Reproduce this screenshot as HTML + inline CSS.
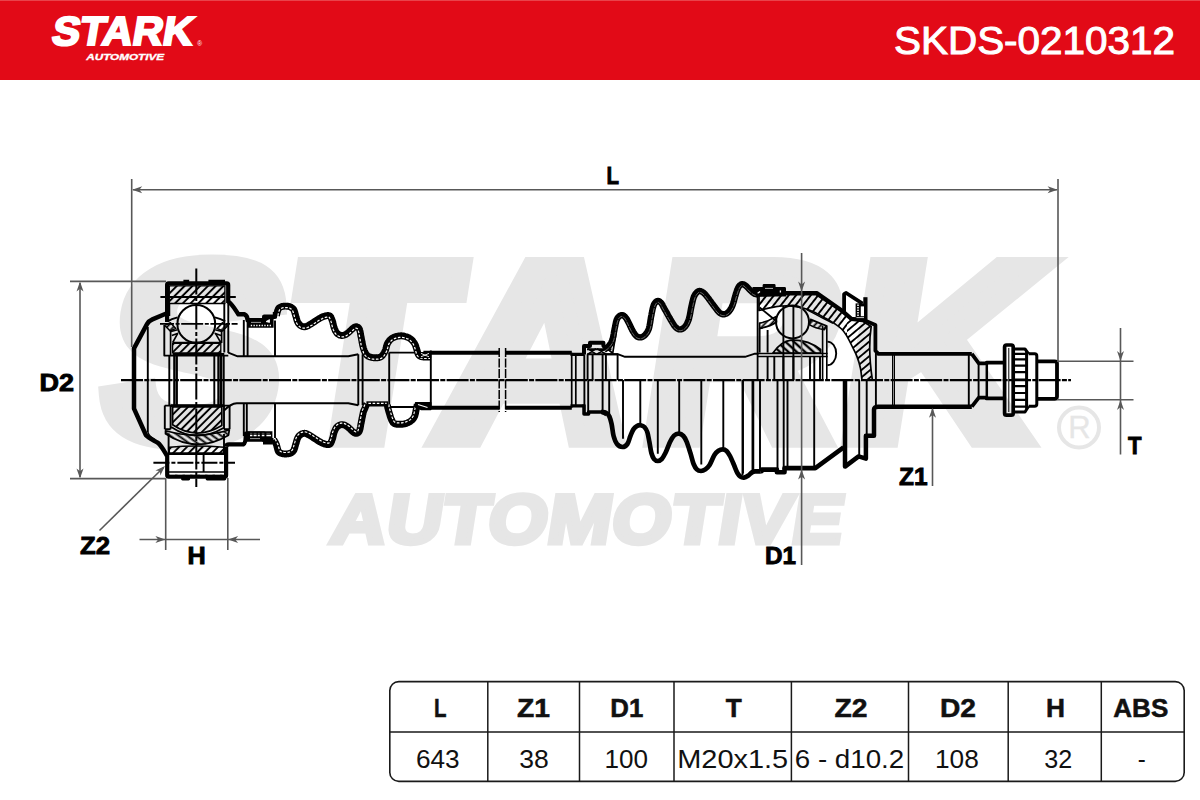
<!DOCTYPE html>
<html lang="en"><head><meta charset="utf-8"><title>STARK SKDS-0210312</title>
<style>
html,body{margin:0;padding:0;background:#fff;}
body{width:1200px;height:800px;overflow:hidden;font-family:"Liberation Sans",sans-serif;}
svg{display:block;}
text{font-family:"Liberation Sans",sans-serif;}
.lb{font-weight:bold;font-size:24.6px;fill:#000;stroke:#000;stroke-width:.9px;stroke-linejoin:miter;}
.th{font-weight:bold;font-size:25px;fill:#111;stroke:#111;stroke-width:.5px;text-anchor:middle;}
.td{font-size:25.5px;fill:#111;text-anchor:middle;}
.dim{stroke:#585858;stroke-width:1.6;fill:none;}
.ah{fill:#585858;stroke:none;}
</style></head><body>
<svg width="1200" height="800" viewBox="0 0 1200 800">
<defs>
<pattern id="h1" width="5.5" height="5.5" patternUnits="userSpaceOnUse" patternTransform="rotate(-45)"><path d="M0,2.75H5.5" stroke="#000" stroke-width="1.95"/></pattern>
<pattern id="h2" width="5" height="5" patternUnits="userSpaceOnUse" patternTransform="rotate(36)"><path d="M0,2.5H5" stroke="#000" stroke-width="1.9"/></pattern>
<pattern id="h3" width="4.6" height="4.6" patternUnits="userSpaceOnUse" patternTransform="rotate(-46)"><path d="M0,2.3H4.6" stroke="#000" stroke-width="1.75"/></pattern>
<pattern id="h6" width="5.6" height="5.6" patternUnits="userSpaceOnUse" patternTransform="rotate(-40)"><path d="M0,2.8H5.6" stroke="#000" stroke-width="1.85"/></pattern>
<pattern id="h4" width="4.3" height="4.3" patternUnits="userSpaceOnUse" patternTransform="rotate(-50)"><path d="M0,2.15H4.3" stroke="#000" stroke-width="1.5"/></pattern>
<pattern id="h5" width="5.8" height="5.8" patternUnits="userSpaceOnUse" patternTransform="rotate(-52)"><path d="M0,2.9H5.8" stroke="#000" stroke-width="1.9"/></pattern>
<pattern id="h7" width="5.6" height="5.6" patternUnits="userSpaceOnUse" patternTransform="rotate(42)"><path d="M0,2.8H5.6" stroke="#000" stroke-width="2.4"/></pattern>
<clipPath id="cA"><rect x="750" y="280" width="97" height="110"/></clipPath>
<clipPath id="cB"><rect x="847" y="280" width="40" height="110"/></clipPath>
</defs>
<rect x="0" y="0" width="1200" height="80" fill="#e20a17"/>
<rect x="0" y="0" width="1200" height="1" fill="#e9434b"/>
<text transform="translate(50.4,44.9) skewX(-9.5)" x="0" y="0" font-size="40.4" font-weight="bold" fill="#fff" stroke="#fff" stroke-width="2.2" textLength="141" lengthAdjust="spacingAndGlyphs">STARK</text>
<text x="86.2" y="60.1" font-size="9.4" font-weight="bold" font-style="italic" fill="#fff" stroke="#fff" stroke-width=".35" textLength="78" lengthAdjust="spacingAndGlyphs">AUTOMOTIVE</text>
<text x="197.2" y="45.6" font-size="6.5" fill="#fff">®</text>
<text x="894" y="54" font-size="38.4" fill="#fff" stroke="#fff" stroke-width="1" textLength="281" lengthAdjust="spacingAndGlyphs">SKDS-0210312</text>
<g fill="#e6e6e6" stroke="#e6e6e6" font-weight="bold" stroke-linejoin="miter">
<text transform="translate(0,447.8) skewX(-9) translate(0,-9) scale(1.06,1)" font-size="251" stroke-width="18" x="87.1 258.8 404.2 598.1 784.9" y="0">STARK</text>
<text transform="translate(326,545.4) skewX(-9) translate(0,-2.5) scale(1.1,1)" font-size="69" stroke-width="5" x="2" y="0" textLength="465" lengthAdjust="spacing">AUTOMOTIVE</text>
</g>
<circle cx="1079" cy="427.5" r="20" fill="none" stroke="#e6e6e6" stroke-width="4"/>
<text x="1079.5" y="438.4" font-size="31" text-anchor="middle" fill="#e6e6e6" stroke="#e6e6e6" stroke-width=".3">R</text>
<g fill="none" stroke="#000" stroke-linejoin="round" stroke-linecap="butt">
<path d="M166.9,313.2L152.4,319.4Q148.8,320.9 147,324.2L134,348.4V408.6L146,435.2C149,438.4 154,440.4 157.6,442.6C161,445 163.6,450 167,455.8" fill="none" stroke="#000" stroke-width="4.5"/>
<path d="M147.8,327V432" fill="none" stroke="#000" stroke-width="1.9"/>
<path d="M147.8,432C149,436 152,438 155,439.6" fill="none" stroke="#000" stroke-width="1.4"/>
<path d="M167.1,322V284.9Q167.1,283.4 168.6,283.4H226.6Q228.2,283.4 228.2,284.9V303" fill="none" stroke="#000" stroke-width="4.2"/>
<path d="M183.4,281.4H189.2M208.4,281.4H225" fill="none" stroke="#000" stroke-width="3.2"/>
<rect x="169.3" y="285.9" width="55.6" height="17.6" fill="url(#h1)" stroke="#000" stroke-width="1.3"/>
<path d="M169.3,297H225" fill="none" stroke="#000" stroke-width="1.9"/>
<circle cx="196.3" cy="323.9" r="18.9" stroke-width="2" fill="none"/>
<path d="M164.3,325V355.6H228.3M228.3,302V353M224.3,303.5V352.6M169.3,303.5V316" fill="none" stroke="#000" stroke-width="1.9"/>
<rect x="172.6" y="343.4" width="48.2" height="9.4" fill="url(#h1)" stroke="#000" stroke-width="1.3"/>
<path d="M172.6,354.3H224.3" fill="none" stroke="#000" stroke-width="2.6"/>
<path d="M167.4,321.4Q171.5,318.8 177.6,317.4M225.2,321.4Q221,318.8 215,317.4" fill="none" stroke="#000" stroke-width="1.9"/>
<path d="M164.8,325.4L170.4,322.8L175.8,328.4L170.2,331Z" fill="url(#h3)" stroke="#000" stroke-width="1.5"/>
<path d="M228,325.4L222.4,322.8L217,328.4L222.6,331Z" fill="url(#h3)" stroke="#000" stroke-width="1.5"/>
<path d="M171,331.6L177.6,329.8M171.8,335.6L178.2,333.2M221.8,331.6L215.2,329.8M221,335.6L214.6,333.2" fill="none" stroke="#000" stroke-width="1.6"/>
<path d="M170.6,331V355M172.6,342.6L177.6,333.6M172.6,342.6H220.8L215.6,333.6M221.6,331V343" fill="none" stroke="#000" stroke-width="1.7"/>
<path d="M169.3,355.6V405M214.3,355.6V405" fill="none" stroke="#000" stroke-width="1.9"/>
<path d="M174.3,355.6V405M176.8,355.6V405M218.4,355.6V405M220.9,355.6V405M223.6,355.6V405" fill="none" stroke="#000" stroke-width="2.2"/>
<path d="M164.8,405.6H229.6M164.8,405.6V429.3M170.6,405.6V429.3M164.8,429.3H170.6M224,405.6V429.3M229.6,405.6V429.3M224,429.3H229.6" fill="none" stroke="#000" stroke-width="1.9"/>
<path d="M170.6,405.6H224" fill="none" stroke="#000" stroke-width="2.6"/>
<path d="M172.6,406.8H221.8V425.5Q196.3,440.9 172.6,424.8Z" fill="url(#h1)" stroke="#000" stroke-width="1.7"/>
<path d="M171.2,427Q196.3,443.8 223.4,428" fill="none" stroke="#000" stroke-width="1.6"/>
<path d="M165.5,430.8Q196.3,439.6 229.3,430L228.5,435.2Q196.3,454.2 165.5,433.8Z" fill="url(#h2)" stroke="#000" stroke-width="1.7"/>
<path d="M169.3,447.2Q196.3,444.8 224,447.2V452.9H169.3Z" fill="url(#h1)" stroke="#000" stroke-width="1.5"/>
<path d="M168.6,433.6V453M224,434V453" fill="none" stroke="#000" stroke-width="1.9"/>
<path d="M168,453.9H226" fill="none" stroke="#000" stroke-width="2"/>
<path d="M167.2,453.5V475.2Q167.2,476.7 168.8,476.7H224.6Q226.1,476.7 226.1,475.2V446.4" fill="none" stroke="#000" stroke-width="4.2"/>
<path d="M168.5,472H225" fill="none" stroke="#000" stroke-width="1.3"/>
<path d="M170,473.9H224" fill="none" stroke="#fff" stroke-width="0.8" stroke-dasharray="5 2.5"/>
<path d="M182.6,478.8H188.6M207.2,478.8H224.6" fill="none" stroke="#000" stroke-width="3.2" stroke-linecap="round"/>
<path d="M203.6,453.6V472" fill="none" stroke="#000" stroke-width="1.9"/>
<path d="M228.2,301.6C232.5,304 235.5,310.5 238.4,314.3H244.4C246.8,315.4 247.6,317.5 247.6,320.2H264.2V316.8H275V312" fill="none" stroke="#000" stroke-width="4.4"/>
<path d="M226.1,446.6Q226.4,444.4 229,444.4H243.2C245.4,443.5 245.9,439.5 245.9,433.7H264.2V440.2H273.5" fill="none" stroke="#000" stroke-width="4.4"/>
<path d="M247.4,318.2H263.6V315.2H273.6V327.8H247.4Z" fill="#000" stroke="none"/>
<path d="M251,322.4H261" fill="none" stroke="#fff" stroke-width="0.6"/>
<path d="M250.8,325.5H271.6" fill="none" stroke="#fff" stroke-width="1.7" stroke-dasharray="1.3 1.4"/>
<path d="M266,321.6L269.5,319.6L269.5,322.4Z" fill="#fff" stroke="#fff" stroke-width="0.8"/>
<path d="M246.4,431.3H272.4V444.6H263V441.7H246.4Z" fill="#000" stroke="none"/>
<path d="M250,435.5H271" fill="none" stroke="#fff" stroke-width="1.3" stroke-dasharray="2.4 1.2 3 1.2 2 2 2.6 2 5 20"/>
<path d="M250,433.3H270" fill="none" stroke="#fff" stroke-width="0.7" stroke-opacity=".45" stroke-dasharray="2.4 1.2 3 1.2 2 2 2.6 2 5 20"/>
<path d="M250,438.6H260" fill="none" stroke="#fff" stroke-width="0.6"/>
<path d="M243.8,320V356.3M247.6,321.6V356.3M275,320.6V356.3M243.8,403.3V436M246.8,403.3V434M275,403.3V438" fill="none" stroke="#000" stroke-width="1.9"/>
<path d="M228.3,352.6L237.6,356.3H348.3L358.3,354.3M224.3,410.4C228,406.5 232,403.6 236.8,403.3H348.3L358.3,405.3" fill="none" stroke="#000" stroke-width="1.9"/>
<path d="M358.3,354.3V405.3M362.6,354.3V405.3" fill="none" stroke="#000" stroke-width="1.9"/>
<path d="M389.2,352.6V407M389.2,352.6H420M389.2,407H420M430.8,350.6V409" fill="none" stroke="#000" stroke-width="1.9"/>
<path d="M423.4,352.8H499.2M505.6,352.8H571.8M423.4,407.8H499.2M505.6,407.8H571.8" fill="none" stroke="#000" stroke-width="3.9"/>
<path d="M499.2,348V412M505.6,348V412" fill="none" stroke="#000" stroke-width="1.5" stroke-dasharray="9 1.5"/>
<path d="M571.7,352.8V407.8M575.8,353.2V406.6" fill="none" stroke="#000" stroke-width="1.7"/>
<path d="M570.5,354.4H584M570.5,405.9H584" fill="none" stroke="#000" stroke-width="3.3"/>
<path d="M276.4,315.4L276.6,314.8L276.8,314L277,313.1L277.3,312.1L277.5,311L277.9,310.1L278.2,309.3L278.4,308.7L278.7,308.3L279,308L279.4,307.7L279.7,307.5L280.1,307.3L280.5,307.1L281,306.9L281.5,306.7L282,306.5L282.5,306.4L283,306.3L283.6,306.2L284.2,306.2L284.8,306.1L285.4,306.1L286,306.1L286.6,306.2L287.2,306.2L287.8,306.3L288.3,306.3L288.9,306.4L289.4,306.6L289.9,306.7L290.4,306.9L290.9,307.2L291.4,307.4L291.8,307.7L292.3,308.1L292.7,308.4L293.1,308.8L293.4,309.2L293.8,309.7L294.1,310.3L294.3,311L294.6,311.8L294.9,312.7L295.1,313.7L295.4,314.6L295.6,315.5L295.9,316.4L296.2,317.2L296.4,318.1L296.6,318.9L296.9,319.8L297.1,320.6L297.4,321.4L297.8,322.2L298.2,323L298.6,323.6L299.2,324.3L299.7,324.8L300.3,325.3L300.9,325.7L301.6,326.1L302.3,326.4L303,326.6L303.6,326.7L304.2,326.8L304.8,326.8L305.5,326.7L306.2,326.5L306.9,326.2L307.7,325.8L308.7,325.3L309.9,324.6L311.4,323.7L313,322.6L314.7,321.5L316.4,320.4L318,319.4L319.4,318.5L320.7,317.8L321.7,317.2L322.7,316.8L323.5,316.5L324.3,316.2L325,316L325.6,315.9L326.3,315.7L326.9,315.6L327.5,315.6L328,315.5L328.5,315.5L328.9,315.6L329.2,315.6L329.5,315.8L329.8,315.9L330.1,316.1L330.3,316.4L330.6,316.7L330.9,317.1L331.1,317.7L331.4,318.3L331.7,319L331.9,319.7L332.2,320.5L332.5,321.3L332.8,322.2L333,323.3L333.3,324.4L333.5,325.5L333.8,326.5L334.1,327.6L334.4,328.5L334.8,329.3L335.1,330.1L335.4,330.8L335.8,331.4L336.2,332.1L336.6,332.6L337,333.2L337.5,333.7L338.1,334.1L338.7,334.5L339.3,334.8L339.9,335.1L340.6,335.3L341.2,335.4L341.9,335.5L342.6,335.4L343.3,335.3L344,335.2L344.7,334.9L345.3,334.6L345.9,334.3L346.5,333.9L347.2,333.4L347.9,333L348.6,332.4L349.4,331.6L350.2,330.9L351,330.1L351.8,329.3L352.6,328.6L353.2,328L353.8,327.6L354.3,327.3L354.8,327.1L355.2,326.9L355.5,326.8L355.8,326.7L356.1,326.7L356.3,326.7L356.7,326.8L357,326.9L357.4,327L357.7,327.2L358.1,327.4L358.4,327.7L358.7,328L359,328.4L359.3,328.9L359.6,329.6L359.8,330.4L360.1,331.4L360.3,332.5L360.5,333.6L360.7,334.9L360.9,336.1L361.2,337.3L361.4,338.5L361.6,339.7L361.9,341L362.1,342.4L362.4,343.7L362.6,345L362.9,346.2L363.2,347.4L363.5,348.5L363.9,349.5L364.2,350.5L364.6,351.5L365,352.4L365.5,353.2L365.9,354L366.5,354.7L367.1,355.4L367.8,355.9L368.4,356.3L369.1,356.6L369.8,356.9L370.4,357.1L371,357.2L371.7,357.4L372.3,357.6L373,357.7L373.8,357.8L374.5,357.8L375.2,357.8L375.9,357.8L376.5,357.8L377.1,357.7L377.6,357.7L378.1,357.7L378.7,357.6L379.2,357.5L379.8,357.3L380.4,357.1L381,356.7L381.6,356.3L382.1,355.7L382.6,355.2L383.1,354.5L383.6,353.8L384.1,353L384.5,352.3L384.9,351.4L385.3,350.6L385.7,349.6L386,348.6L386.2,347.6L386.5,346.6L386.7,345.6L387,344.7L387.3,343.9L387.7,343.1L388.1,342.4L388.7,341.6L389.2,340.9L389.8,340.1L390.5,339.5L391.2,338.9L391.9,338.3L392.7,337.9L393.6,337.4L394.6,337.1L395.6,336.7L396.7,336.4L397.9,336.2L399,336L400.1,335.9L401.2,335.8L402.2,335.9L403.3,336L404.4,336.2L405.4,336.5L406.5,336.8L407.5,337.2L408.4,337.6L409.3,338.1L410.1,338.5L410.8,339.1L411.5,339.7L412.1,340.3L412.8,341L413.3,341.7L413.9,342.5L414.4,343.2L414.8,343.9L415.2,344.6L415.5,345.4L415.8,346.2L416,347L416.3,347.9L416.6,348.7L416.8,349.5L417,350.1L417.2,350.8L417.4,351.5L417.6,352.2L417.7,352.9L417.9,353.5L418.2,354.2L418.6,354.8L419,355.3L419.5,355.8L420,356.1L420.5,356.4L421,356.6L421.6,356.7L422.2,356.8L422.8,356.9L423.6,357L424.6,357.1L425.6,357.1L426.7,357.1L427.7,357.1L428.7,357.1L429.4,357.1L430,357" fill="none" stroke="#000" stroke-width="6.9" stroke-linejoin="round"/>
<path d="M277.8,315.8L278,315.2L278.2,314.3L278.4,313.4L278.7,312.4L278.9,311.5L279.2,310.6L279.5,309.9L279.7,309.5L279.9,309.2L280.1,309L280.3,308.9L280.5,308.7L280.8,308.5L281.1,308.4L281.5,308.2L282,308L282.4,307.9L282.8,307.8L283.2,307.7L283.7,307.7L284.3,307.6L284.8,307.6L285.4,307.6L285.9,307.6L286.5,307.6L287.1,307.7L287.6,307.7L288.1,307.8L288.6,307.9L289,308L289.4,308.1L289.8,308.2L290.2,308.4L290.6,308.7L291,308.9L291.4,309.2L291.7,309.5L292,309.8L292.3,310.1L292.5,310.5L292.7,310.9L293,311.5L293.2,312.3L293.5,313.1L293.7,314L294,315L294.3,316L294.5,316.9L294.8,317.7L295,318.4L295.2,319.3L295.5,320.2L295.7,321L296.1,322L296.5,322.9L297,323.8L297.5,324.5L298.1,325.2L298.7,325.9L299.4,326.5L300.1,327L300.9,327.4L301.8,327.8L302.6,328L303.4,328.2L304.1,328.2L305,328.2L305.8,328.1L306.7,327.8L307.5,327.5L308.3,327.1L309.4,326.6L310.7,325.8L312.2,324.9L313.8,323.8L315.5,322.7L317.1,321.6L318.7,320.6L320.2,319.7L321.4,319.1L322.4,318.6L323.3,318.1L324,317.8L324.7,317.6L325.3,317.4L325.9,317.3L326.5,317.2L327.1,317.1L327.6,317L328.1,317L328.4,317L328.7,317L328.8,317L328.9,317.1L329,317.1L329.1,317.2L329.2,317.3L329.4,317.5L329.6,317.9L329.8,318.3L330.1,318.8L330.3,319.5L330.6,320.2L330.9,321L331.1,321.7L331.4,322.6L331.6,323.6L331.9,324.7L332.1,325.8L332.4,326.9L332.7,328L333.1,329L333.4,329.9L333.8,330.7L334.1,331.4L334.5,332.1L334.9,332.9L335.4,333.5L336,334.2L336.6,334.8L337.2,335.3L337.9,335.8L338.6,336.1L339.4,336.5L340.2,336.7L341.1,336.9L341.9,336.9L342.8,336.9L343.6,336.8L344.4,336.5L345.2,336.2L345.9,335.9L346.6,335.5L347.3,335.1L348,334.6L348.7,334.1L349.6,333.5L350.4,332.7L351.3,331.9L352.1,331.1L352.8,330.3L353.5,329.7L354.1,329.2L354.6,328.8L355,328.6L355.4,328.4L355.7,328.3L355.8,328.2L356,328.2L356,328.2L356.1,328.2L356.3,328.2L356.6,328.3L356.8,328.4L357,328.5L357.2,328.6L357.4,328.7L357.6,328.9L357.8,329.2L358,329.5L358.2,330.1L358.4,330.8L358.6,331.7L358.9,332.8L359.1,333.9L359.3,335.1L359.5,336.4L359.8,337.6L360,338.8L360.2,340L360.4,341.3L360.7,342.6L360.9,344L361.2,345.3L361.5,346.6L361.8,347.8L362.2,348.9L362.5,350L362.9,351L363.3,352L363.7,353L364.2,353.9L364.7,354.8L365.4,355.7L366.1,356.4L366.9,357.1L367.7,357.6L368.6,358L369.3,358.3L370,358.5L370.7,358.7L371.3,358.8L372.1,359L372.8,359.1L373.6,359.2L374.4,359.3L375.2,359.3L375.9,359.3L376.6,359.2L377.2,359.2L377.8,359.1L378.3,359.1L378.9,359L379.5,358.9L380.3,358.7L381.1,358.4L381.8,357.9L382.5,357.4L383.2,356.7L383.7,356.1L384.3,355.3L384.8,354.6L385.3,353.8L385.8,352.9L386.2,352.1L386.7,351.1L387.1,350.1L387.4,349L387.7,347.9L387.9,346.9L388.1,346L388.4,345.1L388.6,344.4L388.9,343.8L389.3,343.2L389.8,342.4L390.4,341.8L390.9,341.1L391.5,340.5L392.1,340L392.7,339.6L393.4,339.1L394.2,338.8L395.1,338.4L396,338.1L397.1,337.8L398.1,337.6L399.2,337.4L400.2,337.3L401.2,337.3L402.1,337.3L403.1,337.5L404,337.7L405,337.9L406,338.2L406.9,338.6L407.8,338.9L408.6,339.3L409.2,339.7L409.9,340.2L410.5,340.7L411.1,341.3L411.7,342L412.2,342.6L412.7,343.3L413.2,344L413.5,344.6L413.8,345.2L414.1,345.9L414.4,346.7L414.7,347.5L414.9,348.3L415.2,349.1L415.4,349.9L415.7,350.6L415.8,351.2L416,351.8L416.1,352.5L416.3,353.3L416.6,354L416.9,354.9L417.4,355.7L418,356.3L418.5,356.9L419.2,357.4L419.9,357.7L420.6,358L421.3,358.1L421.9,358.3L422.6,358.4L423.5,358.5L424.5,358.5L425.6,358.5L426.7,358.5L427.8,358.5L428.7,358.5L429.5,358.5L430,358.5" fill="none" stroke="#fff" stroke-width="1.2" stroke-dasharray="2.6 1.6"/>
<path d="M273.8,439.7L274,440L274.2,440.5L274.5,441L274.9,441.6L275.3,442.3L275.6,443L276,443.8L276.4,444.6L276.7,445.5L276.9,446.4L277.2,447.4L277.4,448.4L277.7,449.3L277.9,450.1L278.2,450.8L278.4,451.4L278.7,451.8L279,452.1L279.4,452.4L279.7,452.6L280.1,452.8L280.5,453L281,453.2L281.5,453.4L282,453.6L282.5,453.7L283,453.8L283.6,453.9L284.2,453.9L284.8,454L285.4,454L286,454L286.6,453.9L287.2,453.9L287.8,453.8L288.3,453.8L288.9,453.7L289.4,453.5L289.9,453.4L290.4,453.2L290.9,452.9L291.4,452.7L291.8,452.4L292.3,452L292.7,451.7L293.1,451.3L293.4,450.9L293.8,450.4L294.1,449.8L294.3,449.1L294.6,448.3L294.9,447.4L295.1,446.4L295.4,445.5L295.6,444.6L295.9,443.7L296.2,442.9L296.4,442L296.6,441.2L296.9,440.3L297.1,439.5L297.4,438.7L297.8,437.9L298.2,437.1L298.6,436.5L299.2,435.8L299.7,435.3L300.3,434.8L300.9,434.4L301.6,434L302.3,433.7L303,433.5L303.6,433.4L304.2,433.3L304.8,433.3L305.5,433.4L306.2,433.6L306.9,433.9L307.7,434.3L308.7,434.8L309.9,435.5L311.4,436.4L313,437.5L314.7,438.6L316.4,439.7L318,440.7L319.4,441.6L320.7,442.3L321.7,442.9L322.7,443.3L323.5,443.6L324.3,443.9L325,444.1L325.6,444.2L326.3,444.4L326.9,444.5L327.5,444.5L328,444.6L328.5,444.6L328.9,444.5L329.2,444.5L329.5,444.3L329.8,444.2L330.1,444L330.3,443.7L330.6,443.4L330.9,443L331.1,442.4L331.4,441.8L331.7,441.1L331.9,440.4L332.2,439.6L332.5,438.8L332.8,437.9L333,436.8L333.3,435.7L333.5,434.6L333.8,433.6L334.1,432.5L334.4,431.6L334.8,430.8L335.1,430L335.4,429.3L335.8,428.7L336.2,428L336.6,427.5L337,426.9L337.5,426.4L338.1,426L338.7,425.6L339.3,425.3L339.9,425L340.6,424.8L341.2,424.7L341.9,424.6L342.6,424.7L343.3,424.8L344,424.9L344.7,425.2L345.3,425.5L345.9,425.8L346.5,426.2L347.2,426.7L347.9,427.1L348.6,427.7L349.4,428.5L350.2,429.2L351,430L351.8,430.8L352.6,431.5L353.2,432.1L353.8,432.5L354.3,432.8L354.8,433L355.2,433.2L355.5,433.3L355.8,433.4L356.1,433.4L356.3,433.4L356.7,433.3L357,433.2L357.4,433.1L357.7,432.9L358.1,432.7L358.4,432.4L358.7,432.1L359,431.7L359.3,431.2L359.6,430.5L359.8,429.7L360.1,428.7L360.3,427.6L360.5,426.5L360.7,425.2L360.9,424L361.2,422.8L361.4,421.6L361.7,420.3L361.9,418.9L362.2,417.5L362.5,416.2L362.7,414.9L363,413.8L363.2,412.7L363.4,411.9L363.7,411.2L363.9,410.6L364.1,410.1L364.3,409.7L364.5,409.3L364.7,408.9L364.9,408.5L365.1,407.9L365.3,407.3L365.6,406.6L365.9,406L366.1,405.3L366.3,404.8L366.5,404.3L366.7,404" fill="none" stroke="#000" stroke-width="6.9"/>
<path d="M275,439L275.2,439.3L275.5,439.7L275.8,440.3L276.1,440.9L276.5,441.6L276.9,442.3L277.3,443.2L277.7,444L278,445L278.3,446L278.6,447L278.8,448L279.1,448.9L279.3,449.7L279.5,450.3L279.7,450.6L279.9,450.9L280.1,451.1L280.3,451.2L280.5,451.4L280.8,451.6L281.1,451.7L281.5,451.9L282,452.1L282.4,452.2L282.8,452.3L283.2,452.4L283.7,452.4L284.3,452.5L284.8,452.5L285.4,452.5L285.9,452.5L286.5,452.5L287.1,452.4L287.6,452.4L288.1,452.3L288.6,452.2L289,452.1L289.4,452L289.8,451.9L290.2,451.7L290.6,451.4L291,451.2L291.4,450.9L291.7,450.6L292,450.3L292.3,450L292.5,449.6L292.7,449.2L293,448.6L293.2,447.8L293.5,447L293.7,446.1L294,445.1L294.3,444.1L294.5,443.2L294.8,442.4L295,441.7L295.2,440.8L295.5,439.9L295.7,439.1L296.1,438.1L296.5,437.2L297,436.3L297.5,435.6L298.1,434.9L298.7,434.2L299.4,433.6L300.1,433.1L300.9,432.7L301.8,432.3L302.6,432.1L303.4,431.9L304.1,431.9L305,431.9L305.8,432L306.7,432.3L307.5,432.6L308.3,433L309.4,433.5L310.7,434.3L312.2,435.2L313.8,436.3L315.5,437.4L317.1,438.5L318.7,439.5L320.2,440.4L321.4,441L322.4,441.5L323.3,442L324,442.3L324.7,442.5L325.3,442.7L325.9,442.8L326.5,442.9L327.1,443L327.6,443.1L328.1,443.1L328.4,443.1L328.7,443.1L328.8,443.1L328.9,443L329,443L329.1,442.9L329.2,442.8L329.4,442.6L329.6,442.2L329.8,441.8L330.1,441.3L330.3,440.6L330.6,439.9L330.9,439.1L331.1,438.4L331.4,437.5L331.6,436.5L331.9,435.4L332.1,434.3L332.4,433.2L332.7,432.1L333.1,431.1L333.4,430.2L333.8,429.4L334.1,428.7L334.5,428L334.9,427.2L335.4,426.6L336,425.9L336.6,425.3L337.2,424.8L337.9,424.3L338.6,424L339.4,423.6L340.2,423.4L341.1,423.2L341.9,423.2L342.8,423.2L343.6,423.3L344.4,423.6L345.2,423.9L345.9,424.2L346.6,424.6L347.3,425L348,425.5L348.7,426L349.6,426.6L350.4,427.4L351.3,428.2L352.1,429L352.8,429.8L353.5,430.4L354.1,430.9L354.6,431.3L355,431.5L355.4,431.7L355.7,431.8L355.8,431.9L356,431.9L356,431.9L356.1,431.9L356.3,431.9L356.6,431.8L356.8,431.7L357,431.6L357.2,431.5L357.4,431.4L357.6,431.2L357.8,430.9L358,430.6L358.2,430L358.4,429.3L358.6,428.4L358.9,427.3L359.1,426.2L359.3,425L359.5,423.7L359.8,422.5L360,421.3L360.3,420L360.5,418.6L360.8,417.3L361,415.9L361.3,414.6L361.5,413.4L361.8,412.4L362,411.5L362.3,410.7L362.5,410.1L362.8,409.5L363,409L363.2,408.7L363.3,408.3L363.5,407.9L363.7,407.4L364,406.7L364.2,406.1L364.5,405.4L364.8,404.8L365,404.2L365.2,403.8L365.3,403.4" fill="none" stroke="#fff" stroke-width="1.2" stroke-dasharray="2.6 1.6"/>
<path d="M387.6,404.5L387.6,404.9L387.6,405.3L387.5,405.6L387.5,405.9L387.5,406.3L387.6,406.8L387.7,407.6L388,408.6L388.4,410L388.9,411.8L389.5,413.8L390.1,415.9L390.8,418L391.6,419.9L392.4,421.5L393.1,422.6L393.8,423.2L394.7,423.7L395.6,424L396.6,424.2L397.7,424.3L398.8,424.3L400,424.3L401.1,424.3L402.2,424.2L403.3,424.1L404.4,423.9L405.4,423.6L406.5,423.3L407.5,422.9L408.4,422.5L409.3,422L410.1,421.6L410.8,421L411.5,420.5L412.2,419.9L412.8,419.2L413.4,418.5L413.9,417.8L414.3,417L414.7,416.2L415,415.2L415.3,414.1L415.6,413L415.8,411.8L416,410.7L416.2,409.6L416.4,408.7L416.6,407.9L416.7,407.3L416.8,406.7L416.9,406.2L417,405.7L417.1,405.4L417.1,405L417.2,404.7" fill="none" stroke="#000" stroke-width="6.9"/>
<path d="M389.1,404.5L389.1,405L389,405.5L389,405.8L389,405.9L389,406.2L389,406.6L389.1,407.3L389.4,408.2L389.8,409.6L390.3,411.4L390.9,413.4L391.5,415.5L392.2,417.5L392.9,419.3L393.6,420.8L394.2,421.6L394.7,422.1L395.3,422.4L395.9,422.6L396.8,422.8L397.7,422.9L398.8,422.9L400,422.8L401.1,422.8L402.1,422.8L403.1,422.6L404,422.4L405,422.2L406,421.9L406.9,421.5L407.8,421.2L408.6,420.8L409.3,420.3L410,419.9L410.6,419.4L411.2,418.8L411.7,418.3L412.2,417.7L412.6,417L413,416.4L413.4,415.7L413.6,414.8L413.9,413.8L414.2,412.7L414.4,411.5L414.6,410.4L414.8,409.3L415,408.4L415.1,407.6L415.3,407L415.4,406.4L415.5,405.9L415.6,405.5L415.6,405.1L415.7,404.8L415.8,404.5" fill="none" stroke="#fff" stroke-width="1.2" stroke-dasharray="2.6 1.6"/>
<path d="M366.4,403.9H388" fill="none" stroke="#000" stroke-width="5.2"/>
<path d="M368.4,403.4H386.6" fill="none" stroke="#fff" stroke-width="1.2" stroke-dasharray="2.6 1.6"/>
<path d="M415.6,402.6H430.8V409.6H421.5L415.6,407Z" fill="#000" stroke="#000" stroke-width="1.4"/>
<path d="M418,404.6L427.5,407.6" fill="none" stroke="#fff" stroke-width="1.1"/>
<path d="M419.4,352.6H430.6V357.4H419.4Z" fill="#000" stroke="#000" stroke-width="1.2"/>
<path d="M421,353.4L429,356.8M421,356.8L429,353.4" fill="none" stroke="#fff" stroke-width="0.9"/>
<path d="M584,354.6V346H590V342.8H603.4V345.8L607,347.8" fill="none" stroke="#000" stroke-width="4"/>
<path d="M616.2,332L612.6,353.8" fill="none" stroke="#000" stroke-width="1.7"/>
<path d="M584,404.4V414H588.6V412H602L606.4,414.8" fill="none" stroke="#000" stroke-width="3.5"/>
<path d="M587,349.3H611.5M587,354.3H618" fill="none" stroke="#000" stroke-width="1.9"/>
<path d="M588,348.6L596,354.3M596,348.6L588,354.3M597,348.6L606,354.3M606,348.6L597,354.3M605,347L612.5,353" fill="none" stroke="#000" stroke-width="1.7"/>
<path d="M584.3,354.3V380.1M587.6,354.3V380.1M592.6,354.3V380.1M602.6,354.3V380.1M605.9,354.3V380.1" fill="none" stroke="#000" stroke-width="1.9"/>
<path d="M617.6,354.3V380.1" fill="none" stroke="#000" stroke-width="1.9"/>
<path d="M604,349.8L604.3,349.6L604.7,349.4L605.2,349.1L605.8,348.7L606.4,348.3L607,347.8L607.7,347.3L608.2,346.7L608.8,346.1L609.3,345.4L609.8,344.7L610.4,344L610.9,343.2L611.4,342.3L611.8,341.4L612.2,340.3L612.6,339.2L612.9,338L613.2,336.7L613.4,335.4L613.7,334.1L613.9,332.8L614.1,331.5L614.4,330.2L614.6,328.9L614.9,327.6L615.2,326.2L615.4,324.9L615.7,323.6L616,322.4L616.2,321.3L616.5,320.3L616.9,319.5L617.2,318.8L617.5,318.2L617.8,317.7L618.1,317.3L618.5,316.9L618.9,316.5L619.2,316.2L619.6,315.9L620,315.7L620.4,315.5L620.8,315.3L621.3,315.2L621.7,315.2L622.1,315.1L622.4,315.2L622.8,315.3L623.2,315.4L623.6,315.6L624,315.9L624.4,316.2L624.8,316.6L625.2,317L625.6,317.5L626,317.9L626.3,318.4L626.7,318.9L627,319.5L627.3,320.2L627.7,320.9L628.1,321.6L628.5,322.5L629,323.4L629.5,324.4L630,325.5L630.6,326.7L631.1,327.9L631.7,329L632.2,330.1L632.7,331L633.2,331.8L633.7,332.5L634.1,333.2L634.5,333.9L635,334.5L635.4,335L635.9,335.5L636.4,336L636.9,336.4L637.4,336.7L637.9,337L638.4,337.2L639,337.3L639.6,337.4L640.2,337.4L640.8,337.4L641.3,337.3L641.9,337.1L642.5,336.8L643.1,336.5L643.7,336.1L644.3,335.7L644.8,335.2L645.3,334.7L645.8,334.1L646.3,333.5L646.8,332.8L647.3,332.1L647.7,331.3L648.2,330.4L648.6,329.4L649,328.3L649.3,327L649.6,325.6L649.9,324L650.2,322.4L650.4,320.8L650.7,319.2L650.9,317.6L651.2,316.2L651.5,314.8L651.7,313.4L652,312.1L652.3,310.7L652.5,309.5L652.8,308.3L653.1,307.2L653.4,306.3L653.6,305.5L653.9,304.8L654.2,304.2L654.5,303.7L654.8,303.2L655.1,302.8L655.4,302.5L655.7,302.1L656,301.8L656.4,301.6L656.7,301.3L657,301.2L657.4,301.1L657.7,301L658,301L658.3,301L658.6,301.1L658.9,301.2L659.3,301.3L659.6,301.6L660,301.9L660.4,302.2L660.8,302.6L661.2,303L661.6,303.5L661.9,304L662.3,304.6L662.6,305.3L663,306L663.4,306.9L663.9,307.8L664.5,308.9L665.2,310.1L666,311.5L666.9,313L667.8,314.7L668.7,316.3L669.6,317.8L670.4,319.3L671.1,320.5L671.8,321.6L672.4,322.6L673,323.6L673.5,324.4L674,325.3L674.6,326L675.1,326.7L675.7,327.3L676.3,327.8L676.8,328.3L677.4,328.7L678,329L678.6,329.2L679.2,329.4L679.9,329.4L680.5,329.4L681.2,329.3L681.8,329.1L682.5,328.8L683.1,328.4L683.7,328L684.3,327.4L684.9,326.9L685.4,326.2L685.9,325.5L686.4,324.7L686.9,323.9L687.3,323L687.7,322.1L688.2,321L688.6,319.9L689,318.7L689.3,317.3L689.7,315.8L690,314.2L690.3,312.5L690.6,310.8L690.9,309.2L691.2,307.6L691.5,306.2L691.8,304.9L692.1,303.5L692.4,302.2L692.7,301L693,299.8L693.3,298.7L693.6,297.7L693.9,296.8L694.3,296L694.7,295.2L695,294.6L695.4,294L695.8,293.4L696.3,293L696.7,292.5L697.1,292.1L697.5,291.8L697.8,291.5L698.2,291.3L698.5,291.2L698.8,291.1L699.2,291L699.5,291L699.9,291L700.3,291.1L700.7,291.2L701.2,291.4L701.7,291.6L702.2,291.9L702.7,292.2L703.3,292.6L703.8,293L704.2,293.4L704.7,293.8L705.1,294.3L705.5,294.8L706,295.3L706.5,296L707.1,296.7L707.8,297.6L708.6,298.6L709.5,299.9L710.5,301.2L711.5,302.6L712.5,304L713.5,305.3L714.4,306.6L715.2,307.6L715.9,308.5L716.4,309.2L717,309.9L717.4,310.5L717.9,311.1L718.4,311.6L718.8,312.1L719.4,312.6L719.9,313L720.5,313.4L721.1,313.7L721.6,313.9L722.2,314.1L722.8,314.3L723.5,314.3L724.1,314.3L724.7,314.2L725.3,314L725.9,313.8L726.5,313.5L727.1,313.1L727.7,312.7L728.2,312.2L728.7,311.7L729.2,311.1L729.7,310.5L730.2,309.8L730.7,309L731.2,308.2L731.7,307.3L732.1,306.4L732.5,305.4L732.9,304.2L733.3,303L733.7,301.7L734.1,300.4L734.4,299L734.8,297.7L735.1,296.4L735.5,295.3L735.8,294.2L736.1,293.1L736.5,292.1L736.8,291.1L737.1,290.2L737.5,289.3L737.8,288.5L738.1,287.8L738.4,287.3L738.7,286.7L739,286.3L739.3,285.9L739.6,285.6L739.9,285.3L740.3,285.1L740.6,284.8L740.9,284.6L741.2,284.5L741.4,284.3L741.7,284.2L742,284.2L742.3,284.2L742.5,284.2L742.8,284.2L743.1,284.3L743.5,284.4L743.8,284.5L744.2,284.7L744.5,284.9L744.9,285.2L745.3,285.5L745.8,285.8L746.2,286.1L746.7,286.6L747.1,287.1L747.6,287.6L748.1,288.1L748.7,288.7L749.2,289.2L749.7,289.7L750.2,290.2L750.8,290.7L751.3,291.2L751.8,291.7L752.4,292.2L753,292.7L753.5,293.1L754.1,293.5L754.7,293.8L755.4,294L756,294.2L756.6,294.3L757.1,294.4L757.6,294.5L757.9,294.5L758.2,294.6" fill="none" stroke="#000" stroke-width="6.4"/>
<path d="M604.7,350.9L604.9,350.7L605.3,350.5L605.9,350.2L606.5,349.8L607.1,349.4L607.8,348.8L608.5,348.2L609.2,347.6L609.8,346.9L610.3,346.2L610.9,345.5L611.4,344.7L612,343.9L612.5,342.9L613,341.9L613.5,340.8L613.9,339.6L614.2,338.3L614.5,337L614.7,335.7L614.9,334.3L615.2,333L615.4,331.7L615.7,330.5L615.9,329.2L616.2,327.8L616.4,326.4L616.7,325.1L617,323.8L617.2,322.7L617.5,321.6L617.8,320.8L618.1,320L618.3,319.4L618.6,318.9L618.9,318.4L619.2,318.1L619.4,317.8L619.7,317.5L620,317.2L620.3,317L620.6,316.8L620.9,316.7L621.2,316.6L621.5,316.5L621.8,316.4L622,316.4L622.2,316.5L622.4,316.5L622.6,316.6L622.9,316.8L623.2,317L623.6,317.2L623.9,317.6L624.3,317.9L624.7,318.3L625,318.7L625.3,319.1L625.5,319.6L625.9,320.1L626.2,320.7L626.5,321.4L626.9,322.2L627.4,323L627.8,324L628.3,325L628.8,326.1L629.4,327.3L630,328.4L630.5,329.6L631.1,330.7L631.6,331.6L632.1,332.5L632.5,333.2L633,334L633.5,334.6L633.9,335.3L634.4,335.9L634.9,336.4L635.5,337L636.1,337.4L636.7,337.8L637.3,338.1L638,338.4L638.7,338.6L639.5,338.7L640.2,338.7L641,338.7L641.7,338.5L642.4,338.3L643.1,338L643.8,337.6L644.4,337.2L645.1,336.7L645.7,336.1L646.3,335.5L646.8,334.9L647.3,334.3L647.9,333.6L648.4,332.8L648.9,331.9L649.3,330.9L649.8,329.9L650.2,328.7L650.6,327.3L650.9,325.8L651.2,324.2L651.4,322.6L651.7,321L651.9,319.4L652.2,317.8L652.5,316.4L652.7,315.1L653,313.7L653.3,312.3L653.5,311L653.8,309.8L654.1,308.6L654.3,307.6L654.6,306.7L654.9,306L655.1,305.3L655.4,304.8L655.6,304.3L655.8,304L656.1,303.6L656.3,303.3L656.6,303L656.9,302.8L657.1,302.6L657.3,302.5L657.5,302.4L657.7,302.3L657.9,302.3L658,302.3L658.1,302.3L658.2,302.3L658.4,302.4L658.7,302.5L658.9,302.7L659.2,302.9L659.5,303.1L659.9,303.5L660.2,303.9L660.5,304.3L660.8,304.7L661.1,305.3L661.5,305.9L661.9,306.6L662.3,307.5L662.8,308.5L663.4,309.5L664.1,310.7L664.9,312.1L665.7,313.7L666.6,315.3L667.5,316.9L668.4,318.5L669.3,319.9L670,321.2L670.7,322.3L671.3,323.3L671.9,324.3L672.4,325.1L673,326L673.5,326.8L674.1,327.5L674.8,328.2L675.4,328.8L676.1,329.3L676.7,329.8L677.5,330.2L678.2,330.5L679,330.7L679.9,330.7L680.7,330.7L681.5,330.5L682.3,330.3L683.1,329.9L683.8,329.5L684.5,329L685.2,328.4L685.8,327.7L686.4,327L687,326.2L687.5,325.4L688,324.5L688.5,323.6L688.9,322.6L689.4,321.5L689.8,320.3L690.2,319L690.6,317.6L690.9,316.1L691.3,314.4L691.6,312.8L691.9,311.1L692.2,309.4L692.4,307.9L692.7,306.5L693.1,305.1L693.3,303.8L693.6,302.5L693.9,301.3L694.2,300.1L694.5,299.1L694.8,298.1L695.1,297.3L695.5,296.5L695.8,295.8L696.1,295.3L696.5,294.7L696.9,294.3L697.2,293.8L697.6,293.4L697.9,293.1L698.3,292.8L698.5,292.6L698.8,292.5L699,292.4L699.2,292.3L699.3,292.3L699.5,292.3L699.8,292.3L700,292.3L700.3,292.4L700.7,292.6L701.1,292.8L701.6,293L702,293.3L702.5,293.6L702.9,294L703.4,294.3L703.8,294.7L704.1,295.1L704.6,295.6L705,296.1L705.5,296.8L706.1,297.5L706.8,298.4L707.6,299.4L708.5,300.6L709.4,302L710.5,303.4L711.5,304.8L712.5,306.1L713.4,307.3L714.2,308.4L714.8,309.3L715.4,310L715.9,310.7L716.4,311.4L716.9,312L717.4,312.5L718,313.1L718.6,313.6L719.2,314.1L719.8,314.5L720.5,314.8L721.2,315.1L721.9,315.4L722.6,315.5L723.4,315.6L724.2,315.6L725,315.5L725.7,315.3L726.5,315L727.2,314.6L727.8,314.2L728.5,313.7L729.1,313.2L729.7,312.6L730.2,311.9L730.8,311.2L731.3,310.5L731.8,309.7L732.3,308.8L732.8,307.9L733.3,306.9L733.7,305.8L734.2,304.7L734.6,303.4L735,302.1L735.3,300.7L735.7,299.3L736,298L736.4,296.8L736.7,295.7L737,294.6L737.4,293.5L737.7,292.5L738,291.5L738.4,290.6L738.7,289.8L739,289.1L739.3,288.4L739.5,287.9L739.8,287.5L740.1,287.1L740.3,286.8L740.6,286.5L740.8,286.3L741.1,286.1L741.3,285.9L741.6,285.7L741.7,285.6L741.9,285.5L742.1,285.5L742.2,285.5L742.3,285.5L742.5,285.5L742.6,285.5L742.8,285.5L743,285.6L743.3,285.7L743.5,285.8L743.9,286L744.2,286.2L744.6,286.5L745,286.8L745.3,287.1L745.7,287.5L746.2,288L746.7,288.5L747.2,289L747.7,289.6L748.3,290.1L748.8,290.7L749.3,291.2L749.9,291.7L750.4,292.2L751,292.7L751.6,293.2L752.2,293.7L752.8,294.2L753.5,294.6L754.2,295L755,295.2L755.7,295.4L756.3,295.6L756.9,295.7L757.4,295.8L757.7,295.8L757.9,295.9" fill="none" stroke="#fff" stroke-width="0.7" stroke-opacity=".6" stroke-dasharray="5 1"/>
<path d="M605.9,354.3H618.4L625,356.8H745L755,353.7H758.4" fill="none" stroke="#000" stroke-width="1.9"/>
<path d="M601,412H601.8C602.5,412.1 604.7,412.1 606,412.8C607.3,413.5 608.5,414.5 609.4,416.4C610.3,418.3 610.9,420.7 611.6,424C612.3,427.3 612.7,432.7 613.6,436C614.5,439.3 615.5,442.2 617,444C618.5,445.8 620.8,447 622.5,447C624.2,447 626.1,445.8 627.4,444C628.7,442.2 629.4,438.4 630.4,436C631.4,433.6 632.3,431.1 633.4,429.4C634.5,427.7 635.8,426.7 637,426C638.2,425.3 639.4,425 640.6,425.2C641.8,425.4 643.3,425.8 644.4,427C645.5,428.2 646.6,429.9 647.4,432.4C648.2,434.9 648.7,438.6 649.4,442C650.1,445.4 650.6,450.2 651.4,453C652.2,455.8 652.9,457.7 654,459C655.1,460.3 656.5,461 657.8,461C659.1,461 660.5,460.3 661.8,459C663.1,457.7 664,455.8 665.4,453C666.8,450.2 668.6,444.9 670,442C671.4,439.1 672.5,437 674,435.6C675.5,434.2 677.4,433.5 679,433.6C680.6,433.7 682.1,434.7 683.4,436C684.7,437.3 685.4,438.8 686.6,441.6C687.8,444.4 689.2,449.3 690.4,453C691.6,456.7 692.5,461.3 693.6,464C694.7,466.7 695.6,468.2 696.8,469.4C698,470.6 699.6,471 701,471C702.4,471 704,470.4 705.4,469.4C706.8,468.4 708.1,467.4 709.6,465C711.1,462.6 712.9,457.4 714.4,455C715.9,452.6 717,451.7 718.4,450.8C719.8,449.9 721.2,449.4 722.6,449.4C724,449.4 725.4,449.9 726.6,451C727.8,452.1 728.8,453.7 730,456C731.2,458.3 732.8,462.2 734,465C735.2,467.8 736.3,471.1 737.4,473C738.5,474.9 739.3,475.8 740.4,476.6C741.5,477.4 742.7,477.7 744,477.6C745.3,477.5 746.7,476.7 748,475.8C749.3,474.9 750.8,473.1 752,472.4C753.2,471.7 753.5,471.6 755,471.4C756.5,471.2 759.8,471.3 760.8,471.3" fill="none" stroke="#000" stroke-width="4.7"/>
<path d="M584.4,380.1V413M588.2,380.1V412M602.6,380.1V411.6M609.2,380.1V416M623,380.1V438.8M640.3,380.1V424.4M657.8,380.1V453.8M679.2,380.1V432.8M701.3,380.1V464.6M723.3,380.1V448.6M743,380.1V473.6M753.3,380.1V471" fill="none" stroke="#000" stroke-width="1.9"/>
<path d="M757.6,293.4L785,292.8H816.8L841.8,310.2L851.5,318.6L863,319.8L869,322.2L875.4,325V350.8L878.4,353.9H971.8" fill="none" stroke="#000" stroke-width="3.8"/>
<path d="M752.4,287H762.6V285.4Q762.6,284 764,284H774.2Q775.6,284 775.6,285.4V287H784.6Q786,287 786,288.4V296.6H756Z" fill="#000" stroke="none"/>
<path d="M765,288.4H773" fill="none" stroke="#fff" stroke-width="0.7"/>
<path d="M757.5,293.6L760,291.6M780.4,290.6V292.4" fill="none" stroke="#fff" stroke-width="1.3"/>
<path d="M844.1,312.5V294.2L846.2,293L862.6,303.6" fill="none" stroke="#000" stroke-width="3.8"/>
<path d="M865.4,297.2V321.4" fill="none" stroke="#000" stroke-width="4.2"/>
<rect x="855.6" y="303.4" width="9" height="15.8" fill="#000" stroke="none"/>
<path d="M858,304.6V316.6" fill="none" stroke="#ddd" stroke-width="1.8" stroke-dasharray="1.3 1.2"/>
<rect x="860.8" y="306.4" width="3.2" height="9.8" fill="#fff" stroke="none"/>
<path d="M856.4,317.6H864" fill="none" stroke="#fff" stroke-width="0.8"/>
<path d="M759,296L785,294.6H816L841,311.6L851,320.2L863,321.4L871.2,326.4C868.4,345 869.6,362 872.4,380.1H862L862,380.1C861.7,378 861.2,371.9 860.4,368C859.6,364.1 858.4,360.3 857,356.6C855.6,352.9 853.7,349.5 852,346C850.3,342.5 848.3,338.4 846.6,335.6C844.9,332.8 843.4,330.8 841.6,329C839.8,327.2 838.6,326.3 836,324.6C833.4,322.9 829.5,320.6 826,318.6C822.5,316.6 818.8,314.4 815,312.6C811.2,310.8 807.2,309.1 803,308C798.8,306.9 794.5,306 790,305.8C785.5,305.6 781.2,305.8 776,306.6C770.8,307.4 761.8,309.9 759,310.5Z" fill="url(#h5)" stroke="none" clip-path="url(#cA)"/>
<path d="M759,296L785,294.6H816L841,311.6L851,320.2L863,321.4L871.2,326.4C868.4,345 869.6,362 872.4,380.1H862L862,380.1C861.7,378 861.2,371.9 860.4,368C859.6,364.1 858.4,360.3 857,356.6C855.6,352.9 853.7,349.5 852,346C850.3,342.5 848.3,338.4 846.6,335.6C844.9,332.8 843.4,330.8 841.6,329C839.8,327.2 838.6,326.3 836,324.6C833.4,322.9 829.5,320.6 826,318.6C822.5,316.6 818.8,314.4 815,312.6C811.2,310.8 807.2,309.1 803,308C798.8,306.9 794.5,306 790,305.8C785.5,305.6 781.2,305.8 776,306.6C770.8,307.4 761.8,309.9 759,310.5Z" fill="url(#h6)" stroke="none" clip-path="url(#cB)"/>
<path d="M759,296L785,294.6H816L841,311.6L851,320.2L863,321.4L871.2,326.4C868.4,345 869.6,362 872.4,380.1H862L862,380.1C861.7,378 861.2,371.9 860.4,368C859.6,364.1 858.4,360.3 857,356.6C855.6,352.9 853.7,349.5 852,346C850.3,342.5 848.3,338.4 846.6,335.6C844.9,332.8 843.4,330.8 841.6,329C839.8,327.2 838.6,326.3 836,324.6C833.4,322.9 829.5,320.6 826,318.6C822.5,316.6 818.8,314.4 815,312.6C811.2,310.8 807.2,309.1 803,308C798.8,306.9 794.5,306 790,305.8C785.5,305.6 781.2,305.8 776,306.6C770.8,307.4 761.8,309.9 759,310.5Z" fill="none" stroke="#000" stroke-width="1.7"/>
<circle cx="792.5" cy="321.9" r="16.5" stroke-width="2" fill="none"/>
<path d="M783.4,306V380.1 M793.4,306V380.1" fill="none" stroke="#000" stroke-width="1.9"/>
<path d="M757.6,293.4V380.1" fill="none" stroke="#000" stroke-width="1.8"/>
<path d="M767.6,330V352.6" fill="none" stroke="#000" stroke-width="1.9"/>
<path d="M759.6,323.2C766,322 771,319.6 775.8,316.6L776.6,322C772,325.2 766,327.4 759.6,328.4Z" fill="url(#h3)" stroke="#000" stroke-width="1.7"/>
<path d="M759.6,307.4L775,320" fill="none" stroke="#000" stroke-width="1.9"/>
<path d="M759.6,328.4V352.6" fill="none" stroke="#000" stroke-width="1.9"/>
<path d="M810.6,319.4C815,321 820,323.6 826.4,325.8L824.4,329.6C818,328.8 813,327 809.4,324.6Z" fill="url(#h3)" stroke="#000" stroke-width="1.7"/>
<path d="M806.6,309.6C813,312.6 822,318.4 833,323.2" fill="none" stroke="#000" stroke-width="1.5"/>
<path d="M772.8,353.2C778,345.8 784,341 791,340.2C802,339.6 813,343.6 820.6,349.4V353.2Z" fill="url(#h7)" stroke="#000" stroke-width="1.8"/>
<path d="M757.6,353.5H827.6M757.6,356.5H827.6" fill="none" stroke="#000" stroke-width="1.7"/>
<path d="M767.6,356.5V380.1M774.3,356.5V380.1M783.4,356.5V380.1M793.4,356.5V380.1M810,356.5V380.1M814.3,356.5V380.1M820,356.5V380.1" fill="none" stroke="#000" stroke-width="1.9"/>
<path d="M822.6,325.8V380.1 M826.8,325.4V380.1" fill="none" stroke="#000" stroke-width="1.6"/>
<path d="M827.4,341.6A8.8,11.8 0 0 1 827.4,365.2" fill="none" stroke="#000" stroke-width="1.9"/>
<path d="M875.9,326V407" fill="none" stroke="#000" stroke-width="1.9"/>
<path d="M892.6,353.6V406.6M894.4,353.6V406.6" fill="none" stroke="#000" stroke-width="1.2"/>
<path d="M760.8,471.3H761.6V469.6H776.9V472.3H784.5V468.1H815.3L843.6,447.4" fill="none" stroke="#000" stroke-width="4.6"/>
<path d="M845,380.1V466.6L858.6,456.4L865.9,458.6V435.7H874V409.4Q874.2,406.7 878.2,406.7H971.8" fill="none" stroke="#000" stroke-width="4.5"/>
<path d="M742.5,380.1V475M752.5,380.1V471M760,380.1V471M777.5,380.1V469M783.7,380.1V469M787.5,380.1V468M814.2,380.1V467.6M859.2,380.1V455.4M866.7,380.1V438.6" fill="none" stroke="#000" stroke-width="1.9"/>
<path d="M971.8,353.9L978.8,363.4H986.6V362.6H1004.2M971.8,406.7L978.8,397.6H986.6V398.4H1004.2" fill="none" stroke="#000" stroke-width="3.8"/>
<path d="M968.8,353.6V406.7M978.6,363.4V397.6" fill="none" stroke="#000" stroke-width="1.9"/>
<path d="M986.8,362.6V398.4" fill="none" stroke="#000" stroke-width="2.5"/>
<rect x="1004.6" y="345" width="8.6" height="70.2" rx="2" ry="2" stroke-width="3.7" fill="none"/>
<path d="M1008.8,348V412" fill="none" stroke="#000" stroke-width="1"/>
<path d="M1013.3,349H1025L1028.6,353.8M1013.3,412H1025L1028.6,406.3M1026.6,351V410" fill="none" stroke="#000" stroke-width="3"/>
<path d="M1014,353.8H1027.4M1014,359.4H1027.4M1014,365.6H1027.4M1014,372.2H1027.4M1014,379.6H1027.4M1014,386.2H1027.4M1014,393.0H1027.4M1014,399.8H1027.4M1014,406.6H1027.4" fill="none" stroke="#000" stroke-width="2.2"/>
<path d="M1028.6,353.8H1034.6Q1036.8,353.8 1036.8,356V404Q1036.8,406.3 1034.6,406.3H1028.6" fill="none" stroke="#000" stroke-width="3"/>
<path d="M1036.8,361.3H1054.6Q1057,361.3 1057,363.6V396.6Q1057,398.9 1054.6,398.9H1036.8" fill="none" stroke="#000" stroke-width="3.8"/>
<path d="M121,380.1H1071" fill="none" stroke="#000" stroke-width="2.1" stroke-dasharray="22 1.3 5 1.3"/>
<path d="M196.3,268.4V487" fill="none" stroke="#000" stroke-width="2" stroke-dasharray="26 2.5 4 2.5"/>
<path d="M160.4,297H166M228.5,297H235.8" fill="none" stroke="#000" stroke-width="1.9"/>
<path d="M160,323.9H237.6" fill="none" stroke="#000" stroke-width="1.9" stroke-dasharray="14 1.6 4 1.6 22 1.6 4 1.6"/>
<path d="M153.4,462.8H235" fill="none" stroke="#000" stroke-width="1.9" stroke-dasharray="16 2 4 2"/>
</g>
<g class="dim">
<path d="M131.7,179V347M1058,179V361.5M133,189.8H1057"/>
<path d="M80,283V477M70,281.4H166M70,478.6H165"/>
<path d="M165.7,478V550M227.8,478V550M139.5,539.5H260"/>
<path d="M99.5,530.5L163.5,467.5"/>
<path d="M801.6,253V565"/>
<path d="M932.5,486V409"/>
<path d="M1057,361.3H1133.5M1057,399.7H1133.5M1120.5,328V454.5"/>
</g>
<path class="ah" d="M132.2,189.8L142.2,186.3L139.4,189.8L142.2,193.3Z"/>
<path class="ah" d="M1057.6,189.8L1047.6,193.3L1050.4,189.8L1047.6,186.3Z"/>
<path class="ah" d="M80,281.6L83.5,291.6L80,288.8L76.5,291.6Z"/>
<path class="ah" d="M80,478.4L76.5,468.4L80,471.2L83.5,468.4Z"/>
<path class="ah" d="M165.4,539.5L155.4,543L158.2,539.5L155.4,536Z"/>
<path class="ah" d="M228.1,539.5L238.1,536L235.3,539.5L238.1,543Z"/>
<path class="ah" d="M165,466L160.3,475.5L159.9,471L155.4,470.5Z"/>
<path class="ah" d="M801.6,291.6L798.1,281.6L801.6,284.4L805.1,281.6Z"/>
<path class="ah" d="M801.6,469.6L805.1,479.6L801.6,476.8L798.1,479.6Z"/>
<path class="ah" d="M932.5,407.8L936,417.8L932.5,415L929,417.8Z"/>
<path class="ah" d="M1120.5,361.1L1117,351.1L1120.5,353.9L1124,351.1Z"/>
<path class="ah" d="M1120.5,399.9L1124,409.9L1120.5,407.1L1117,409.9Z"/>
<text class="lb" x="606.6" y="183.5" textLength="12.5" lengthAdjust="spacingAndGlyphs">L</text>
<text class="lb" x="39.5" y="391.3" textLength="34.5" lengthAdjust="spacingAndGlyphs">D2</text>
<text class="lb" x="80" y="554.2" textLength="30" lengthAdjust="spacingAndGlyphs">Z2</text>
<text class="lb" x="187.6" y="564.2" textLength="18.2" lengthAdjust="spacingAndGlyphs">H</text>
<text class="lb" x="765" y="563.8" textLength="31" lengthAdjust="spacingAndGlyphs">D1</text>
<text class="lb" x="899" y="485.3" textLength="28.5" lengthAdjust="spacingAndGlyphs">Z1</text>
<text class="lb" x="1128" y="454.3" textLength="13.5" lengthAdjust="spacingAndGlyphs">T</text>
<rect x="389.8" y="681.6" width="794.4" height="99.8" rx="9" ry="9" fill="#fff" stroke="#1a1a1a" stroke-width="1.6"/>
<path d="M389.8,732H1184.2M487.8,681.6V781.4M579.5,681.6V781.4M674,681.6V781.4M791.4,681.6V781.4M908.5,681.6V781.4M1008.2,681.6V781.4M1101.3,681.6V781.4" stroke="#1a1a1a" stroke-width="1.5" fill="none"/>
<text class="th" x="440.3" y="717" textLength="12.5" lengthAdjust="spacingAndGlyphs">L</text>
<text class="td" x="437.8" y="768" textLength="43.7" lengthAdjust="spacingAndGlyphs">643</text>
<text class="th" x="533.6" y="717" textLength="33" lengthAdjust="spacingAndGlyphs">Z1</text>
<text class="td" x="533.9" y="768" textLength="29.5" lengthAdjust="spacingAndGlyphs">38</text>
<text class="th" x="626.8" y="717" textLength="33" lengthAdjust="spacingAndGlyphs">D1</text>
<text class="td" x="626.2" y="768" textLength="43.5" lengthAdjust="spacingAndGlyphs">100</text>
<text class="th" x="733.7" y="717" textLength="16" lengthAdjust="spacingAndGlyphs">T</text>
<text class="td" x="732.7" y="768" textLength="111" lengthAdjust="spacingAndGlyphs">M20x1.5</text>
<text class="th" x="851" y="717" textLength="33" lengthAdjust="spacingAndGlyphs">Z2</text>
<text class="td" x="849.5" y="768" textLength="109.5" lengthAdjust="spacingAndGlyphs">6 - d10.2</text>
<text class="th" x="957.9" y="717" textLength="36" lengthAdjust="spacingAndGlyphs">D2</text>
<text class="td" x="956.9" y="768" textLength="43.8" lengthAdjust="spacingAndGlyphs">108</text>
<text class="th" x="1055.5" y="717" textLength="19" lengthAdjust="spacingAndGlyphs">H</text>
<text class="td" x="1058.2" y="768" textLength="28" lengthAdjust="spacingAndGlyphs">32</text>
<text class="th" x="1140.8" y="717" textLength="55" lengthAdjust="spacingAndGlyphs">ABS</text>
<text class="td" x="1141.8" y="768" textLength="8" lengthAdjust="spacingAndGlyphs">-</text>
</svg>
</body></html>
